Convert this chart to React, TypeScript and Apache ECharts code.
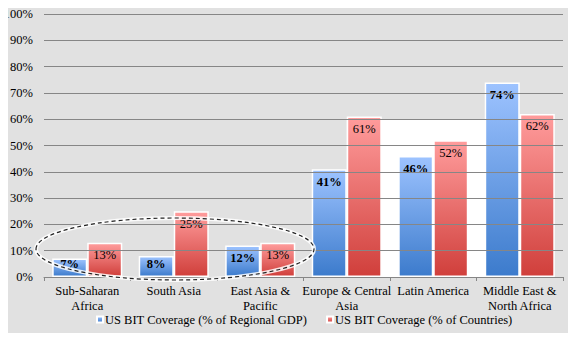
import React, { useEffect, useRef } from "react";
import * as echarts from "echarts";

const CATEGORIES = [
  "Sub-Saharan\nAfrica",
  "South Asia",
  "East Asia &\nPacific",
  "Europe & Central\nAsia",
  "Latin America",
  "Middle East &\nNorth Africa",
];
const GDP_NAME = "US BIT Coverage (% of Regional GDP)";
const COUNTRIES_NAME = "US BIT Coverage (% of Countries)";
const GDP_VALUES = [7, 8, 12, 41, 46, 74];
const COUNTRY_VALUES = [13, 25, 13, 61, 52, 62];
const Y_TICKS = [10, 20, 30, 40, 50, 60, 70, 80, 90, 100];
const FONT = "Liberation Serif";

export default function App() {
  const ref = useRef<HTMLDivElement>(null);
  useEffect(() => {
    if (!ref.current) return;
    const chart = echarts.init(ref.current, null, { renderer: "svg" });
    const blue = new echarts.graphic.LinearGradient(0, 0, 0, 1, [
      { offset: 0, color: "#9dc3ff" },
      { offset: 1, color: "#3c7bcc" },
    ]);
    const red = new echarts.graphic.LinearGradient(0, 0, 0, 1, [
      { offset: 0, color: "#ff9c9c" },
      { offset: 1, color: "#d03f3b" },
    ]);
    const smallLabel = { position: "insideBottom", distance: 7 };
    chart.setOption({
      animation: false,
      backgroundColor: "#e1e1e1",
      textStyle: { fontFamily: FONT },
      grid: { left: 44, right: 13, top: 14, bottom: 64 },
      legend: {
        data: [GDP_NAME, COUNTRIES_NAME],
        bottom: 10,
        left: 91,
        icon: "rect",
        itemWidth: 6,
        itemHeight: 6,
        itemGap: 19,
        textStyle: { fontFamily: FONT, fontSize: 12.5, color: "#000", padding: [0, 0, 0, -3] },
      },
      xAxis: {
        type: "category",
        data: CATEGORIES,
        axisLine: { lineStyle: { color: "#868686", width: 1 } },
        axisTick: { show: true, length: 4, lineStyle: { color: "#868686" } },
        axisLabel: {
          interval: 0,
          fontFamily: FONT,
          fontSize: 12.5,
          color: "#000",
          lineHeight: 15,
          margin: 6,
        },
      },
      yAxis: {
        type: "value",
        min: 0,
        max: 100,
        interval: 10,
        axisLine: { show: false },
        axisTick: { show: false },
        splitLine: { show: false },
        axisLabel: {
          formatter: "{value}%",
          fontFamily: FONT,
          fontSize: 12.5,
          color: "#000",
          margin: 11,
        },
      },
      series: [
        {
          name: "bg",
          type: "line",
          data: [],
          z: 1,
          silent: true,
          markArea: {
            silent: true,
            itemStyle: { color: "#ffffff" },
            data: [[{ xAxis: CATEGORIES[3], yAxis: 0 }, { xAxis: CATEGORIES[5], yAxis: 60 }]],
          },
        },
        {
          name: "gridlines",
          type: "line",
          data: [],
          z: 1.5,
          silent: true,
          markLine: {
            silent: true,
            symbol: "none",
            label: { show: false },
            lineStyle: { color: "#868686", width: 1, type: "solid" },
            data: Y_TICKS.map((v) => ({ yAxis: v })),
          },
        },
        {
          name: GDP_NAME,
          type: "bar",
          z: 2,
          barGap: "0%",
          barCategoryGap: "19%",
          data: GDP_VALUES.map((v) => (v < 10 ? { value: v, label: smallLabel } : v)),
          itemStyle: { color: blue, borderColor: "#ffffff", borderWidth: 1.5 },
          label: {
            show: true,
            position: "insideTop",
            distance: 6,
            formatter: "{c}%",
            fontFamily: FONT,
            fontSize: 12.5,
            fontWeight: "bold",
            color: "#000",
          },
        },
        {
          name: COUNTRIES_NAME,
          type: "bar",
          z: 2,
          data: COUNTRY_VALUES,
          itemStyle: { color: red, borderColor: "#ffffff", borderWidth: 1.5 },
          label: {
            show: true,
            position: "insideTop",
            distance: 6,
            formatter: "{c}%",
            fontFamily: FONT,
            fontSize: 12.5,
            color: "#000",
          },
        },
      ],
      graphic: [
        {
          type: "ellipse",
          z: 100,
          silent: true,
          shape: { cx: 175, cy: 249, rx: 139, ry: 31 },
          style: { fill: null, stroke: "rgba(255,255,255,0.85)", lineWidth: 4 },
        },
        {
          type: "ellipse",
          z: 101,
          silent: true,
          shape: { cx: 175, cy: 249, rx: 139, ry: 31 },
          style: { fill: null, stroke: "#222", lineWidth: 1.2, lineDash: [4, 3] },
        },
      ],
    });
    return () => chart.dispose();
  }, []);
  return <div ref={ref} style={{ width: 576, height: 341, margin: -8 }} />;
}
